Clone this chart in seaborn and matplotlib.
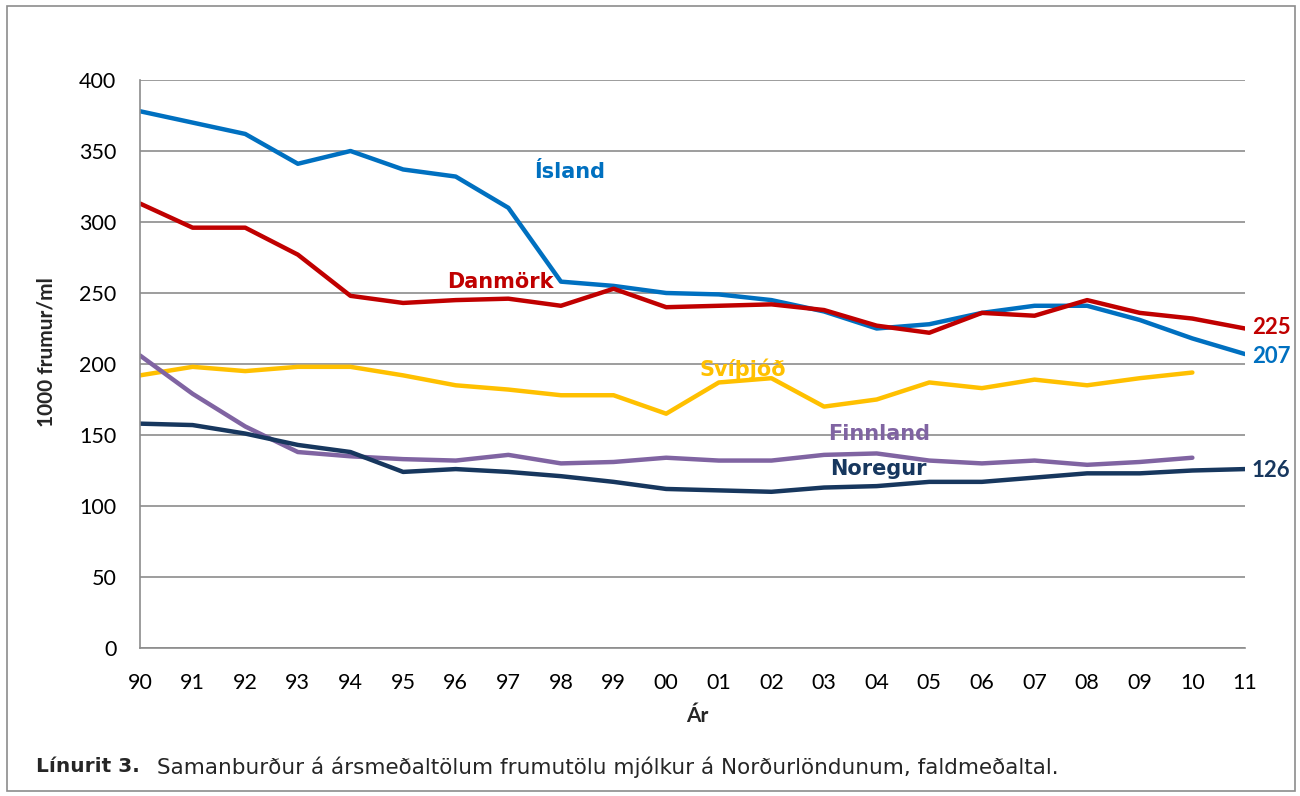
import matplotlib
matplotlib.use("Agg")
import matplotlib.pyplot as plt
import seaborn as sns
import pandas as pd
from matplotlib.patches import Rectangle

years = ["90", "91", "92", "93", "94", "95", "96", "97", "98", "99", "00",
         "01", "02", "03", "04", "05", "06", "07", "08", "09", "10", "11"]
island = [378, 370, 362, 341, 350, 337, 332, 310, 258, 255, 250,
          249, 245, 237, 225, 228, 236, 241, 241, 231, 218, 207]
danmork = [313, 296, 296, 277, 248, 243, 245, 246, 241, 253, 240,
           241, 242, 238, 227, 222, 236, 234, 245, 236, 232, 225]
svithjod = [192, 198, 195, 198, 198, 192, 185, 182, 178, 178, 165,
            187, 190, 170, 175, 187, 183, 189, 185, 190, 194, None]
finnland = [206, 179, 156, 138, 135, 133, 132, 136, 130, 131, 134,
            132, 132, 136, 137, 132, 130, 132, 129, 131, 134, None]
noregur = [158, 157, 151, 143, 138, 124, 126, 124, 121, 117, 112,
           111, 110, 113, 114, 117, 117, 120, 123, 123, 125, 126]

series = {"Ísland": island, "Danmörk": danmork, "Svíþjóð": svithjod,
          "Finnland": finnland, "Noregur": noregur}
colors = {"Ísland": "#0070C0", "Danmörk": "#C00000", "Svíþjóð": "#FFC000",
          "Finnland": "#8064A2", "Noregur": "#17375E"}

rows = []
for name, vals in series.items():
    for i, v in enumerate(vals):
        if v is not None:
            rows.append({"idx": i, "value": v, "land": name})
df = pd.DataFrame(rows)

sns.set_theme(style="white")
plt.rcParams["font.family"] = ["Lato", "DejaVu Sans"]

W, H = 1300, 796
fig = plt.figure(figsize=(13, 7.96), dpi=100)
ax = fig.add_axes([140 / W, 1 - 648 / H, 1105 / W, 568 / H])

# outer frame
fig.patches.append(Rectangle((7 / W, 5 / H), 1288 / W, 785 / H,
                             transform=fig.transFigure, fill=False,
                             edgecolor="#8C8C8C", linewidth=1.2))

sns.lineplot(data=df, x="idx", y="value", hue="land", palette=colors,
             hue_order=list(series.keys()), linewidth=3.2, legend=False,
             ax=ax, sort=False)

ax.set_xlim(0, 21)
ax.set_ylim(0, 400)
ax.set_yticks(range(0, 401, 50))
ax.set_xticks(range(len(years)))
ax.set_xticklabels(years)
ax.yaxis.grid(True, color="#8C8C8C", linewidth=1.2)
ax.set_axisbelow(True)
for s in ["top", "right"]:
    ax.spines[s].set_visible(False)
for s in ["left", "bottom"]:
    ax.spines[s].set_color("#8C8C8C")
    ax.spines[s].set_linewidth(1.2)
ax.tick_params(axis="both", labelsize=15.5, colors="black", width=1.2,
               color="#8C8C8C")
ax.tick_params(axis="y", direction="out", length=6, pad=11)
ax.tick_params(axis="x", direction="inout", length=10, pad=13)
ax.set_xlabel("")
ax.set_ylabel("")

fig.text(697 / W, 1 - 716 / H, "Ár", fontsize=15, fontweight="bold",
         ha="center", va="center")
fig.text(47 / W, 1 - 352 / H, "1000 frumur/ml", fontsize=15, fontweight="bold",
         ha="center", va="center", rotation=90)

lab = dict(fontsize=15, fontweight="bold", family="DejaVu Sans",
           ha="center", va="center")
ax.text(8.17, 335, "Ísland", color=colors["Ísland"], **lab)
ax.text(6.84, 258, "Danmörk", color=colors["Danmörk"], **lab)
ax.text(11.46, 196.5, "Svíþjóð", color=colors["Svíþjóð"], **lab)
ax.text(14.04, 151, "Finnland", color=colors["Finnland"], **lab)
ax.text(14.04, 126, "Noregur", color=colors["Noregur"], **lab)

endlab = dict(fontsize=16, fontweight="bold", ha="left", va="center",
              clip_on=False)
ax.text(21.13, 226, str(danmork[-1]), color=colors["Danmörk"], **endlab)
ax.text(21.13, 205, str(island[-1]), color=colors["Ísland"], **endlab)
ax.text(21.13, 125, str(noregur[-1]), color=colors["Noregur"], **endlab)

fig.text(36 / W, 1 - 767 / H, "Línurit 3.", fontsize=14.5,
         fontweight="bold", family="DejaVu Sans", va="center", ha="left")
fig.text(157 / W, 1 - 767 / H,
         "Samanburður á ársmeðaltölum frumutölu mjólkur á Norðurlöndunum, faldmeðaltal.",
         fontsize=15.5, family="DejaVu Sans", va="center", ha="left")

fig.savefig("out.png", dpi=100, facecolor="white")
